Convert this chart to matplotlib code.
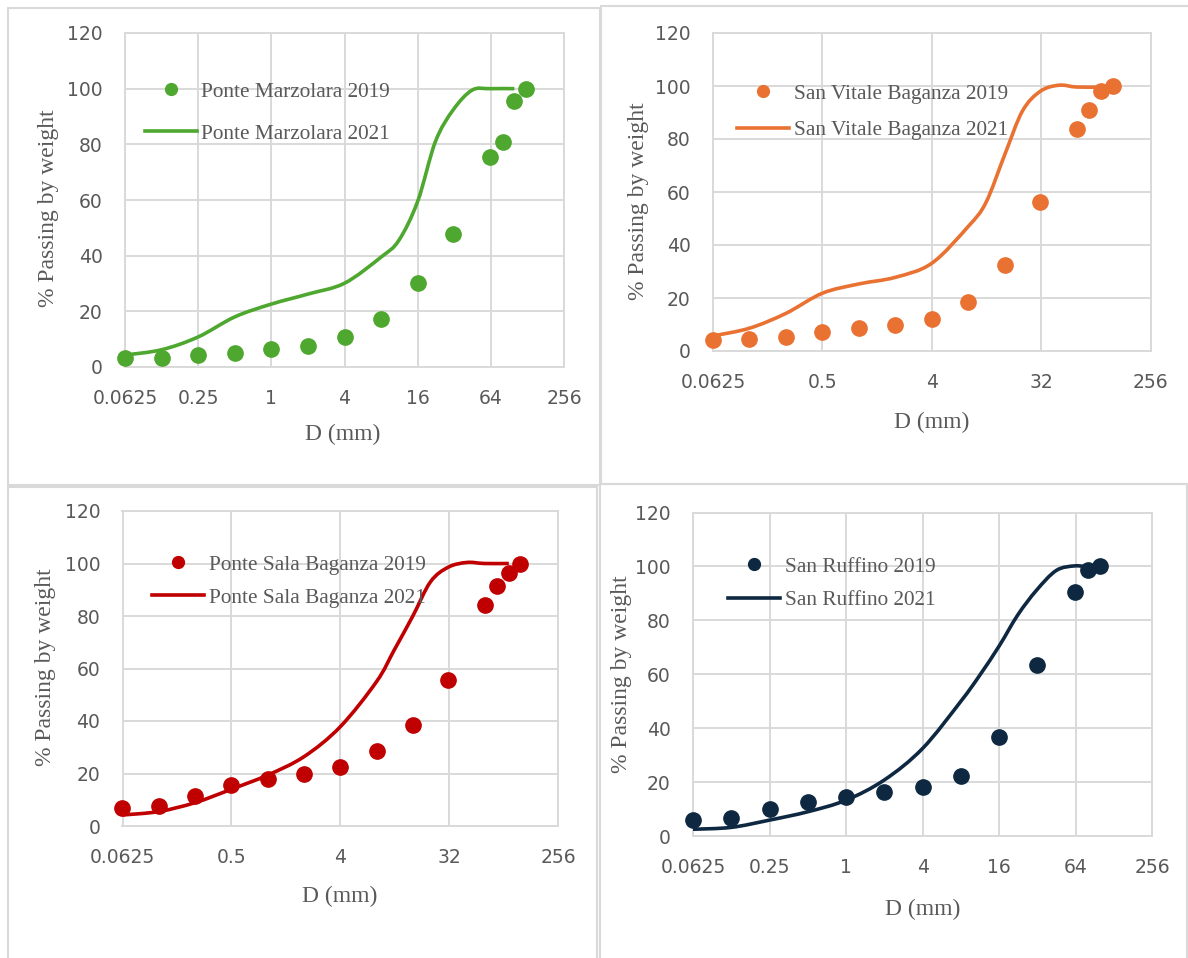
import numpy as np
import matplotlib
matplotlib.use("Agg")
import matplotlib.pyplot as plt
from matplotlib.lines import Line2D
from matplotlib.patches import PathPatch, Rectangle
from matplotlib.path import Path

W, H = 1188, 958

# Sieve sizes (mm)
d_2019 = [0.0625, 0.125, 0.25, 0.5, 1, 2, 4, 8, 16, 31.5, 63, 80, 100, 125]
d_2019_ruffino = [0.0625, 0.125, 0.25, 0.5, 1, 2, 4, 8, 16, 31.5, 63, 80, 100]
d_2021 = [0.0625, 0.125, 0.25, 0.5, 1, 2, 4, 8, 11.2, 16, 22.4, 31.5, 45, 63, 100]
d_2021_ruffino = [0.0625, 0.125, 0.25, 0.5, 1, 2, 4, 8, 11.2, 16, 22.4, 31.5, 45, 63, 80]

# % passing by weight
marzolara_2019 = [3.2, 3.2, 4.3, 5.1, 6.3, 7.6, 10.6, 17.2, 30.3, 47.7, 75.6, 80.7, 95.7, 99.9]
marzolara_2021 = [4.3, 6.2, 10.8, 18.0, 22.6, 26.2, 30.1, 39.5, 45.5, 59.5, 81.0, 92.5, 99.5, 100.0, 100.0]

vitale_2019 = [4.2, 4.4, 5.4, 7.1, 8.6, 9.8, 12.1, 18.6, 32.5, 56.3, 83.8, 90.8, 98.0, 99.9]
vitale_2021 = [5.7, 8.6, 14.2, 21.8, 25.3, 27.8, 33.1, 47.0, 56.0, 74.0, 90.5, 98.0, 100.3, 99.6, 99.6]

sala_2019 = [7.0, 7.7, 11.4, 15.6, 17.9, 19.7, 22.3, 28.5, 38.4, 55.8, 84.1, 91.5, 96.4, 100.0]
sala_2021 = [4.2, 5.5, 8.9, 14.0, 19.4, 26.4, 37.8, 55.0, 67.0, 80.0, 93.0, 98.6, 100.4, 100.0, 100.0]

ruffino_2019 = [5.9, 6.6, 10.0, 12.7, 14.3, 16.2, 18.0, 22.4, 36.6, 63.4, 90.4, 98.6, 100.0]
ruffino_2021 = [2.5, 3.2, 5.9, 9.0, 13.3, 20.8, 32.5, 50.0, 59.5, 70.5, 82.0, 91.2, 98.5, 100.2, 99.7]

ticks_by4 = [0.0625, 0.25, 1, 4, 16, 64, 256]
ticks_by8 = [0.0625, 0.5, 4, 32, 256]
yticks = [0, 20, 40, 60, 80, 100, 120]

GRID = "#d9d9d9"
TXT = "#595959"
SERIF = "Liberation Serif"


def fx(px):
    return px / W


def fy(py):
    return 1 - py / H


def smooth_path(xs, ys):
    # Excel-style smoothed line: cubic Bezier through every point,
    # built in (log2 D, y) space so it follows the log axis.
    u = np.log2(np.asarray(xs, dtype=float))
    v = np.asarray(ys, dtype=float)
    n = len(u)
    verts = [(u[0], v[0])]
    codes = [Path.MOVETO]
    for i in range(n - 1):
        i0, i2 = max(i - 1, 0), min(i + 2, n - 1)
        c1 = (u[i] + (u[i + 1] - u[i0]) / 6, v[i] + (v[i + 1] - v[i0]) / 6)
        c2 = (u[i + 1] - (u[i2] - u[i]) / 6, v[i + 1] - (v[i2] - v[i]) / 6)
        verts += [c1, c2, (u[i + 1], v[i + 1])]
        codes += [Path.CURVE4] * 3
    verts = [(2.0 ** a, b) for a, b in verts]
    return Path(verts, codes)


panels = [
    # axes box (px), xticks, data, colour, labels, legend (handle x, row y, spacing), ylabel x/y, xlabel x/y
    dict(box=(125, 33, 564, 367), xt=ticks_by4,
         d19=d_2019, p19=marzolara_2019, d21=d_2021, p21=marzolara_2021,
         color="#4ea72e", name="Ponte Marzolara",
         leg=(144.7, 89, 42), ylab=(59, 208), xlab=(343, 424)),
    dict(box=(713, 33, 1150.5, 351), xt=ticks_by8,
         d19=d_2019, p19=vitale_2019, d21=d_2021, p21=vitale_2021,
         color="#e97132", name="San Vitale Baganza",
         leg=(737, 90.7, 36.6), ylab=(649, 201), xlab=(932, 412)),
    dict(box=(122.5, 511, 558, 826), xt=ticks_by8,
         d19=d_2019, p19=sala_2019, d21=d_2021, p21=sala_2021,
         color="#c00000", name="Ponte Sala Baganza",
         leg=(152.3, 561.7, 33.3), ylab=(56, 667.5), xlab=(340, 886)),
    dict(box=(693, 512.5, 1152.3, 836), xt=ticks_by4,
         d19=d_2019_ruffino, p19=ruffino_2019, d21=d_2021_ruffino, p21=ruffino_2021,
         color="#0e2841", name="San Ruffino",
         leg=(728, 564, 33.3), ylab=(632, 674), xlab=(922.5, 899)),
]

fig = plt.figure(figsize=(W / 100, H / 100), dpi=100)

# panel frames
for x0, y0, x1, y1 in [(8, 8, 600, 485), (601, 6, 1192, 484),
                       (8, 487, 597, 970), (600, 484, 1187, 970)]:
    fig.add_artist(Rectangle((fx(x0), fy(y1)), fx(x1 - x0), (y1 - y0) / H,
                             transform=fig.transFigure, fill=False,
                             edgecolor=GRID, linewidth=1.5))

for p in panels:
    l, t, r, b = p["box"]
    ax = fig.add_axes([fx(l), fy(b), fx(r - l), (b - t) / H])
    ax.set_xscale("log", base=2)
    ax.set_xlim(0.0625, 256)
    ax.set_ylim(0, 120)
    ax.set_xticks(p["xt"])
    ax.set_xticklabels([f"{v:g}" for v in p["xt"]])
    ax.xaxis.set_minor_locator(matplotlib.ticker.NullLocator())
    ax.set_yticks(yticks)
    ax.tick_params(length=0, labelsize=13.5, labelcolor=TXT)
    ax.tick_params(axis="x", pad=16)
    ax.tick_params(axis="y", pad=16)
    ax.grid(True, color=GRID, linewidth=1.4)
    ax.set_axisbelow(True)
    for s in ax.spines.values():
        s.set_color(GRID)
        s.set_linewidth(1.4)

    c = p["color"]
    ax.plot(p["d19"], p["p19"], ls="none", marker="o", ms=11, color=c,
            clip_on=False, zorder=3)
    ax.add_patch(PathPatch(smooth_path(p["d21"], p["p21"]), fill=False,
                           edgecolor=c, linewidth=2.6, zorder=4))

    handles = [Line2D([], [], ls="none", marker="o", ms=8.5, color=c),
               Line2D([], [], lw=2.6, color=c)]
    hx, ry, dy = p["leg"]
    ls = (dy - 20) / 21.25
    ax.legend(handles, [f"{p['name']} 2019", f"{p['name']} 2021"],
              loc="upper left", bbox_to_anchor=(fx(hx), fy(ry - 7)),
              bbox_transform=fig.transFigure, frameon=False,
              borderpad=0, borderaxespad=0, handlelength=2.45,
              handletextpad=0.22, labelspacing=ls, numpoints=1,
              prop={"family": SERIF, "size": 15.3}, labelcolor=TXT)

    ax.set_ylabel("% Passing by weight", family=SERIF, fontsize=17, color=TXT)
    ax.yaxis.set_label_coords(fx(p["ylab"][0]), fy(p["ylab"][1]),
                              transform=fig.transFigure)
    ax.set_xlabel("D (mm)", family=SERIF, fontsize=17, color=TXT)
    ax.xaxis.set_label_coords(fx(p["xlab"][0]), fy(p["xlab"][1]),
                              transform=fig.transFigure)

fig.savefig("out.png", dpi=100)
